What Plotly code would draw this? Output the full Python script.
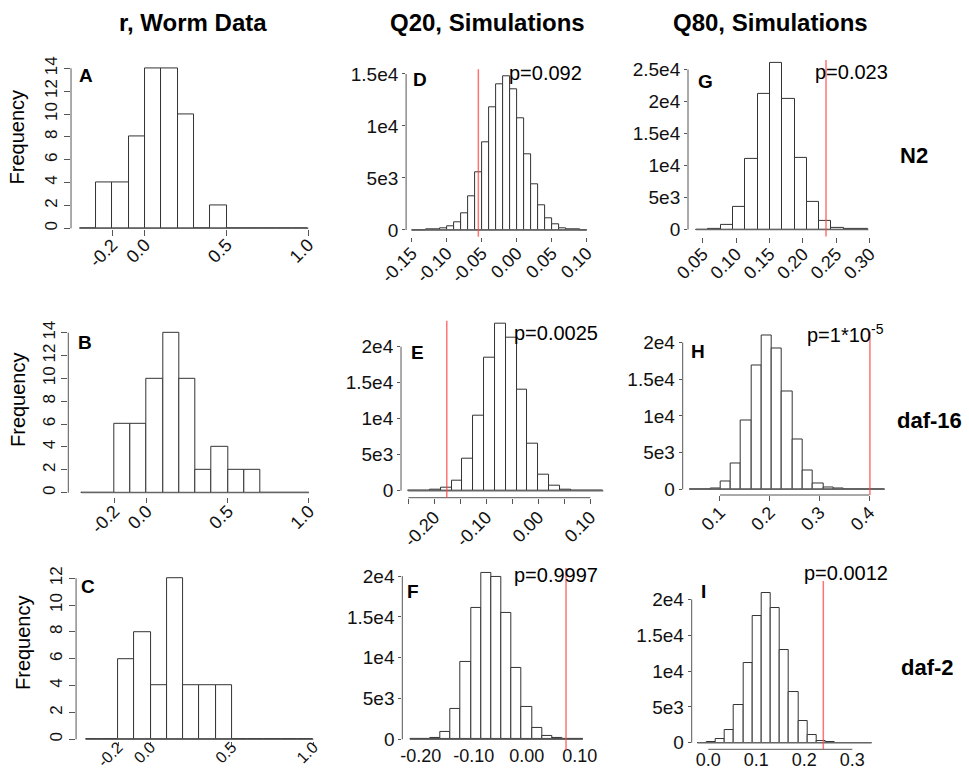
import plotly.graph_objects as go

W, H = 969, 772
FONT = "Liberation Sans, Arial, Helvetica, sans-serif"

# ---------------- DATA ----------------
col_titles = ["r, Worm Data", "Q20, Simulations", "Q80, Simulations"]
row_labels = ["N2", "daf-16", "daf-2"]
letters = ["A", "B", "C", "D", "E", "F", "G", "H", "I"]

# r, worm data (bins of 0.1 from -0.4 to 1.0)
start_A, width_A = -0.4, 0.1
counts_A = [0, 4, 4, 8, 14, 14, 10, 0, 2, 0, 0, 0, 0, 0]
start_B, width_B = -0.4, 0.1
counts_B = [0, 0, 6, 6, 10, 14, 10, 2, 4, 2, 2, 0, 0, 0]
start_C, width_C = -0.4, 0.1
counts_C = [0, 0, 6, 8, 4, 12, 4, 4, 4, 0, 0, 0, 0, 0]

# Q20, simulations
start_D, width_D = -0.15, 0.01
counts_D = [5, 10, 20, 50, 130, 320, 734, 1595, 3255, 5520, 8456, 11806, 13976,
            14773, 13497, 10785, 7243, 4435, 2393, 1117, 510, 190, 70, 25, 10]
obs_D, pval_D = -0.0548, "p=0.092"

start_E, width_E = -0.25, 0.02083
counts_E = [0, 10, 90, 460, 1390, 4400, 10370, 18520, 23240, 21250, 13980, 6570,
            2270, 650, 185, 40, 10, 0]
obs_E, pval_E = -0.176, "p=0.0025"

start_F, width_F = -0.2205, 0.0192
counts_F = [20, 80, 160, 860, 3670, 9510, 16120, 20410, 19920, 15510, 8780, 3920,
            1350, 410, 120, 80, 20]
obs_F, pval_F = 0.0742, "p=0.9997"

# Q80, simulations
start_G, width_G = 0.040, 0.01843
counts_G = [0, 100, 730, 3540, 11040, 21200, 26040, 20420, 11250, 4270, 1300, 260, 100, 20]
obs_G, pval_G = 0.2346, "p=0.023"

start_H, width_H = 0.0392, 0.02063
counts_H = [0, 40, 120, 1000, 3545, 9409, 16909, 21000, 19182, 13273, 6727, 2500,
            818, 273, 90, 40, 10, 0, 0]
obs_H, pval_H = 0.4013, "p=1*10<sup>-5</sup>"

start_I, width_I = -0.0226, 0.0191
counts_I = [0, 50, 465, 1770, 5260, 11160, 17720, 20930, 18740, 12880, 7020, 3020,
            1070, 280, 50, 10, 0, 0, 0]
obs_I, pval_I = 0.2396, "p=0.0012"

# tick values / labels
xt_r = [-0.2, 0.0, 0.5, 1.0]
xl_r = ["-0.2", "0.0", "0.5", "1.0"]
yt_AB = [0, 2, 4, 6, 8, 10, 12, 14]
yt_C = [0, 2, 4, 6, 8, 10, 12]
xt_D = [-0.15, -0.10, -0.05, 0.00, 0.05, 0.10]
xl_D = ["-0.15", "-0.10", "-0.05", "0.00", "0.05", "0.10"]
xt_E = [-0.20, -0.10, 0.00, 0.10]
xl_E = ["-0.20", "-0.10", "0.00", "0.10"]
xt_E_minor = [-0.25, -0.15, -0.05, 0.05]
xt_F = [-0.20, -0.10, 0.00, 0.10]
xl_F = ["-0.20", "-0.10", "0.00", "0.10"]
xt_G = [0.05, 0.10, 0.15, 0.20, 0.25, 0.30]
xl_G = ["0.05", "0.10", "0.15", "0.20", "0.25", "0.30"]
xt_H = [0.1, 0.2, 0.3, 0.4]
xl_H = ["0.1", "0.2", "0.3", "0.4"]
xt_I = [0.0, 0.1, 0.2, 0.3]
xl_I = ["0.0", "0.1", "0.2", "0.3"]
yt_sim15 = [0, 5000, 10000, 15000]
yl_sim15 = ["0", "5e3", "1e4", "1.5e4"]
yt_sim20 = [0, 5000, 10000, 15000, 20000]
yl_sim20 = ["0", "5e3", "1e4", "1.5e4", "2e4"]
yt_sim25 = [0, 5000, 10000, 15000, 20000, 25000]
yl_sim25 = ["0", "5e3", "1e4", "1.5e4", "2e4", "2.5e4"]

# ---------------- PANEL SPECS (layout) ----------------
# geometry: x pixel of x=0, px per x unit, x range, y pixel of y=0, px per y unit, y range
panels = [
    dict(start=start_A, width=width_A, counts=counts_A, obs=None, p=None,
         geo=(145.0, 163.3, -0.453, 1.05, 228.3, 11.43, -0.09, 14.6),
         xt=xt_r, xl=xl_r, xminor=None, xang=-45, xstand=-9, xfs=18,
         yt=yt_AB, yl=[str(v) for v in yt_AB], yang=-90,
         xline=False, xticklen=6, letter=(86, 75), pxy=None, freq=(16.7, 136.7)),
    dict(start=start_B, width=width_B, counts=counts_B, obs=None, p=None,
         geo=(146.7, 162.3, -0.483, 1.05, 492.7, 11.43, -0.35, 14.6),
         xt=xt_r, xl=xl_r, xminor=None, xang=-45, xstand=-9, xfs=18,
         yt=yt_AB, yl=[str(v) for v in yt_AB], yang=-90,
         xline=False, xticklen=5, letter=(85, 342.7), pxy=None, freq=(18, 400)),
    dict(start=start_C, width=width_C, counts=counts_C, obs=None, p=None,
         geo=(150.7, 162.6, -0.459, 1.05, 739.3, 13.42, -0.1, 12.6),
         xt=xt_r, xl=xl_r, xminor=None, xang=-45, xstand=-14, xfs=16,
         yt=yt_C, yl=[str(v) for v in yt_C], yang=-90,
         xline=False, xticklen=4, letter=(88, 586.7), pxy=None, freq=(23, 643)),
    dict(start=start_D, width=width_D, counts=counts_D, obs=obs_D, p=pval_D,
         geo=(516.7, 700.0, -0.158, 0.105, 230.0, 0.0104, -644, 15452),
         xt=xt_D, xl=xl_D, xminor=None, xang=-45, xstand=-6, xfs=18,
         yt=yt_sim15, yl=yl_sim15, yang=0,
         xline=False, xticklen=4, letter=(420, 79), pxy=(545, 73), freq=None),
    dict(start=start_E, width=width_E, counts=counts_E, obs=obs_E, p=pval_E,
         geo=(538.3, 520.0, -0.264, 0.13, 490.7, 0.0072, -972, 23611),
         xt=xt_E, xl=xl_E, xminor=xt_E_minor, xang=-45, xstand=-4, xfs=18,
         yt=yt_sim20, yl=yl_sim20, yang=0,
         xline=True, xticklen=5, letter=(417, 352.7), pxy=(556, 333), freq=None),
    dict(start=start_F, width=width_F, counts=counts_F, obs=obs_F, p=pval_F,
         geo=(526.7, 530.0, -0.2347, 0.11, 739.3, 0.00816, -1311, 21000),
         xt=xt_F, xl=xl_F, xminor=None, xang=0, xstand=-7, xfs=18,
         yt=yt_sim20, yl=yl_sim20, yang=0,
         xline=False, xticklen=0, letter=(413, 591.7), pxy=(556, 575), freq=None),
    dict(start=start_G, width=width_G, counts=counts_G, obs=obs_G, p=pval_G,
         geo=(669.3, 668.0, 0.028, 0.305, 229.5, 0.0064, -1100, 26500),
         xt=xt_G, xl=xl_G, xminor=None, xang=-45, xstand=-6, xfs=18,
         yt=yt_sim25, yl=yl_sim25, yang=0,
         xline=False, xticklen=5, letter=(705.7, 81.7), pxy=(851, 71.7), freq=None),
    dict(start=start_H, width=width_H, counts=counts_H, obs=obs_H, p=pval_H,
         geo=(670.2, 497.7, 0.0251, 0.435, 489.3, 0.00734, -777, 21500),
         xt=xt_H, xl=xl_H, xminor=None, xang=-45, xstand=-6, xfs=18,
         yt=yt_sim20, yl=yl_sim20, yang=0,
         xline=True, xticklen=5, letter=(698.3, 351), pxy=(845, 333), freq=None),
    dict(start=start_I, width=width_I, counts=counts_I, obs=obs_I, p=pval_I,
         geo=(708.3, 480.0, -0.0346, 0.345, 742.7, 0.00716, -922, 22580),
         xt=xt_I, xl=xl_I, xminor=None, xang=0, xstand=-2, xfs=18,
         yt=yt_sim20, yl=yl_sim20, yang=0,
         xline=True, xticklen=0, letter=(703, 591.7), pxy=(846, 572.7), freq=None),
]

fig = go.Figure()
shapes = []
annotations = []
AXC = "#555555"

def px2paper(x, y):
    return x / W, 1 - y / H

for i, pnl in enumerate(panels):
    n = i + 1
    sx = "" if n == 1 else str(n)
    xa, ya = "x" + sx, "y" + sx
    xz, xs, xlo, xhi, yz, ys, ylo, yhi = pnl["geo"]
    xdom = [(xz + xlo * xs) / W, (xz + xhi * xs) / W]
    ydom = [1 - (yz - ylo * ys) / H, 1 - (yz - yhi * ys) / H]

    nb = len(pnl["counts"])
    edges = [pnl["start"] + k * pnl["width"] for k in range(nb + 1)]
    centers = [(edges[k] + edges[k + 1]) / 2 for k in range(nb)]

    # baseline (zero-height bins)
    fig.add_trace(go.Scatter(x=[edges[0], edges[-1]], y=[0, 0], mode="lines",
                             line=dict(color="#666666", width=1.2 if i < 3 else 1.6),
                             xaxis=xa, yaxis=ya, showlegend=False, hoverinfo="skip"))
    fig.add_trace(go.Bar(x=centers, y=pnl["counts"], width=pnl["width"],
                         marker=dict(color="white", line=dict(color="#333333", width=1)),
                         xaxis=xa, yaxis=ya, showlegend=False))

    fs_y = 17 if i < 3 else 19
    xaxis = dict(
        domain=xdom, range=[xlo, xhi], anchor=ya, showgrid=False, zeroline=False,
        showline=False, automargin=False, tickmode="array", tickvals=pnl["xt"],
        ticktext=pnl["xl"],
        ticks="outside" if pnl["xticklen"] > 0 else "", ticklen=pnl["xticklen"],
        tickcolor=AXC, tickangle=pnl["xang"], ticklabelstandoff=pnl["xstand"],
        tickfont=dict(family=FONT, size=pnl["xfs"], color="#111111"))
    if pnl["xminor"] is not None:
        xaxis["minor"] = dict(tickmode="array", tickvals=pnl["xminor"], ticks="outside",
                              ticklen=pnl["xticklen"], tickcolor=AXC, showgrid=False)
    fig.layout["xaxis" + sx] = xaxis
    fig.layout["yaxis" + sx] = dict(
        domain=ydom, range=[ylo, yhi], anchor=xa, showgrid=False, zeroline=False,
        showline=False, automargin=False, tickmode="array", tickvals=pnl["yt"],
        ticktext=pnl["yl"],
        ticks="outside", ticklen=6 if i < 3 else 3, tickcolor=AXC,
        tickangle=pnl["yang"],
        tickfont=dict(family=FONT, size=fs_y, color="#111111"))

    # y axis line (from 0 to last tick, R style)
    shapes.append(dict(type="line", xref=xa + " domain", x0=0, x1=0,
                       yref=ya, y0=pnl["yt"][0], y1=pnl["yt"][-1],
                       line=dict(color=AXC, width=1)))
    if pnl["xline"]:
        allx = pnl["xt"] + (pnl["xminor"] or [])
        shapes.append(dict(type="line", xref=xa, x0=min(allx), x1=max(allx),
                           yref=ya + " domain", y0=0, y1=0,
                           line=dict(color=AXC, width=1)))
    if pnl["obs"] is not None:
        shapes.append(dict(type="line", xref=xa, x0=pnl["obs"], x1=pnl["obs"],
                           yref=ya + " domain", y0=0, y1=1,
                           line=dict(color="rgba(255,70,70,0.75)", width=1.5)))

    lx, ly = px2paper(*pnl["letter"])
    annotations.append(dict(text="<b>%s</b>" % letters[i], x=lx, y=ly, xref="paper",
                            yref="paper", showarrow=False, xanchor="center",
                            yanchor="middle", font=dict(family=FONT, size=19, color="black")))
    if pnl["p"] is not None:
        px_, py_ = px2paper(*pnl["pxy"])
        annotations.append(dict(text=pnl["p"], x=px_, y=py_, xref="paper", yref="paper",
                                showarrow=False, xanchor="center", yanchor="middle",
                                font=dict(family=FONT, size=20, color="black")))
    if pnl["freq"] is not None:
        fx, fy = px2paper(*pnl["freq"])
        annotations.append(dict(text="Frequency", x=fx, y=fy, xref="paper", yref="paper",
                                showarrow=False, textangle=-90, xanchor="center",
                                yanchor="middle", font=dict(family=FONT, size=20, color="black")))

# column titles
for t, (tx, ty) in zip(col_titles, [(192.5, 23), (487.5, 23), (770, 23)]):
    ax_, ay_ = px2paper(tx, ty)
    annotations.append(dict(text="<b>%s</b>" % t, x=ax_, y=ay_, xref="paper", yref="paper",
                            showarrow=False, xanchor="center", yanchor="middle",
                            font=dict(family=FONT, size=24, color="black")))
# row labels
for t, (tx, ty) in zip(row_labels, [(914, 155), (929, 420), (927.5, 667)]):
    ax_, ay_ = px2paper(tx, ty)
    annotations.append(dict(text="<b>%s</b>" % t, x=ax_, y=ay_, xref="paper", yref="paper",
                            showarrow=False, xanchor="center", yanchor="middle",
                            font=dict(family=FONT, size=22, color="black")))

fig.update_layout(width=W, height=H, autosize=False,
                  margin=dict(l=0, r=0, t=0, b=0, pad=0, autoexpand=False),
                  paper_bgcolor="white", plot_bgcolor="white",
                  shapes=shapes, annotations=annotations, bargap=0,
                  font=dict(family=FONT))

fig.write_html("out.html")
